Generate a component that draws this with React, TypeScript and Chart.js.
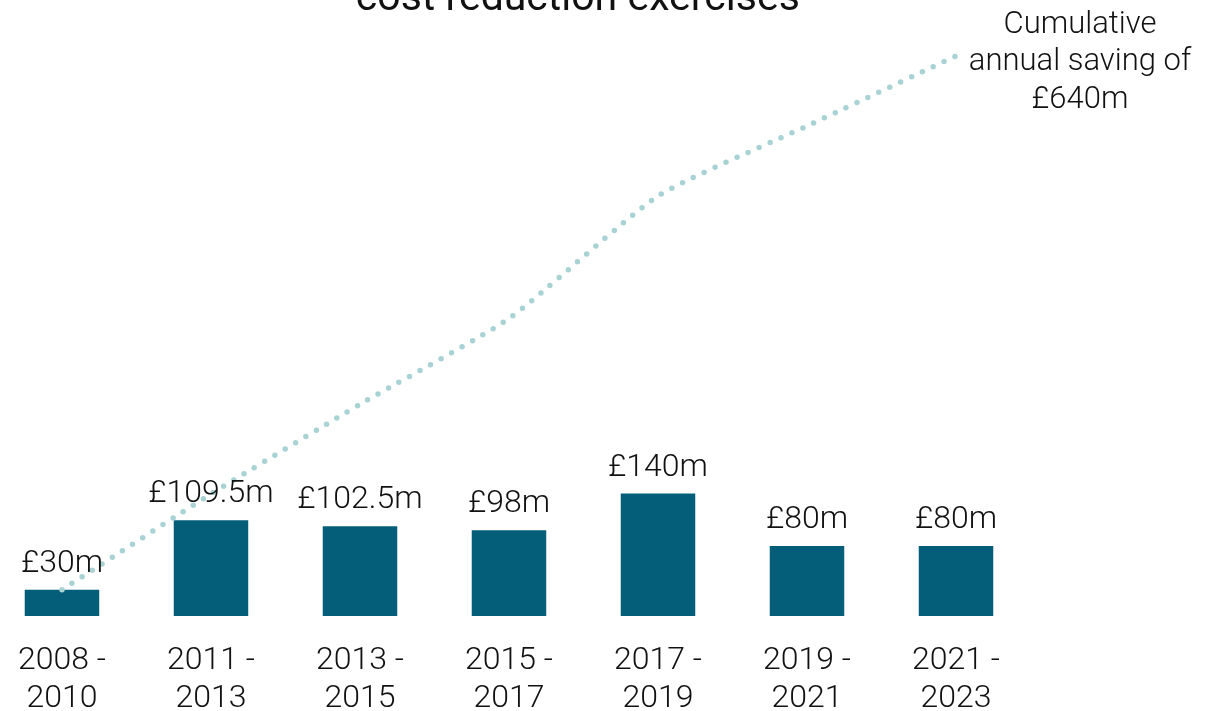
import React, { useEffect, useRef } from "react";
import { Chart, registerables } from "chart.js";

Chart.register(...registerables);

const categories: string[][] = [
  ["2008 -", "2010"],
  ["2011 -", "2013"],
  ["2013 -", "2015"],
  ["2015 -", "2017"],
  ["2017 -", "2019"],
  ["2019 -", "2021"],
  ["2021 -", "2023"],
];
const savings: number[] = [30, 109.5, 102.5, 98, 140, 80, 80];
const barLabels: string[] = ["£30m", "£109.5m", "£102.5m", "£98m", "£140m", "£80m", "£80m"];
const cumulative: number[] = [30, 139.5, 242, 340, 480, 560, 640];
const titleText = "cost reduction exercises";
const annotationLines: string[] = ["Cumulative", "annual saving of", "£640m"];

const FONT = "Roboto, 'Liberation Sans', sans-serif";
const BAR_COLOR = "#045e7a";
const LINE_COLOR = "#a9d2d4";
const TEXT_COLOR = "#111111";

const labelsPlugin = {
  id: "customLabels",
  afterDatasetsDraw(chart: any) {
    const ctx = chart.ctx;
    ctx.save();
    // bar value labels
    const barMeta = chart.getDatasetMeta(1);
    ctx.fillStyle = TEXT_COLOR;
    ctx.font = `300 32px ${FONT}`;
    ctx.textAlign = "center";
    ctx.textBaseline = "alphabetic";
    barMeta.data.forEach((bar: any, i: number) => {
      ctx.fillText(barLabels[i], bar.x, bar.y - 18);
    });
    // annotation at end of cumulative line
    const lineMeta = chart.getDatasetMeta(0);
    const last = lineMeta.data[lineMeta.data.length - 1];
    ctx.font = `300 31px ${FONT}`;
    const cx = last.x + 124;
    annotationLines.forEach((t, i) => {
      ctx.fillText(t, cx, last.y - 23.5 + i * 37.5);
    });
    // title (partially cut off by the top of the page)
    ctx.font = `400 41px ${FONT}`;
    ctx.fillText(titleText, chart.width * 0.474, 10);
    ctx.restore();
  },
};

export default function App() {
  const canvasRef = useRef<HTMLCanvasElement | null>(null);

  useEffect(() => {
    if (!canvasRef.current) return;
    const chart = new Chart(canvasRef.current, {
      type: "bar",
      data: {
        labels: categories,
        datasets: [
          {
            type: "line",
            label: "Cumulative",
            data: cumulative,
            borderColor: LINE_COLOR,
            borderWidth: 5.5,
            borderDash: [0, 12],
            borderCapStyle: "round",
            pointRadius: 0,
            tension: 0.18,
            fill: false,
            clip: false,
          } as any,
          {
            type: "bar",
            label: "Saving",
            data: savings,
            backgroundColor: BAR_COLOR,
            categoryPercentage: 0.5,
            barPercentage: 1,
            clip: false,
          } as any,
        ],
      },
      options: {
        animation: false,
        responsive: false,
        maintainAspectRatio: false,
        layout: { padding: { left: 58.5, right: 263, top: 3.5, bottom: 0 } },
        plugins: {
          legend: { display: false },
          tooltip: { enabled: false },
          title: { display: false },
        },
        scales: {
          x: {
            offset: false,
            grid: { display: false },
            border: { display: false },
            ticks: {
              color: TEXT_COLOR,
              font: { family: FONT, size: 32, weight: 300 as any, lineHeight: 1.19 },
              padding: 18,
              maxRotation: 0,
              autoSkip: false,
            },
            afterFit: (scale: any) => {
              scale.height = 95;
            },
          },
          y: {
            display: false,
            min: 0,
            max: 700,
          },
        },
      },
      plugins: [labelsPlugin],
    });
    return () => chart.destroy();
  }, []);

  return (
    <div style={{ position: "absolute", left: 0, top: 0, width: 1219, height: 711, overflow: "hidden", background: "#ffffff" }}>
      <canvas ref={canvasRef} width={1219} height={711} style={{ width: 1219, height: 711, display: "block" }} />
    </div>
  );
}
